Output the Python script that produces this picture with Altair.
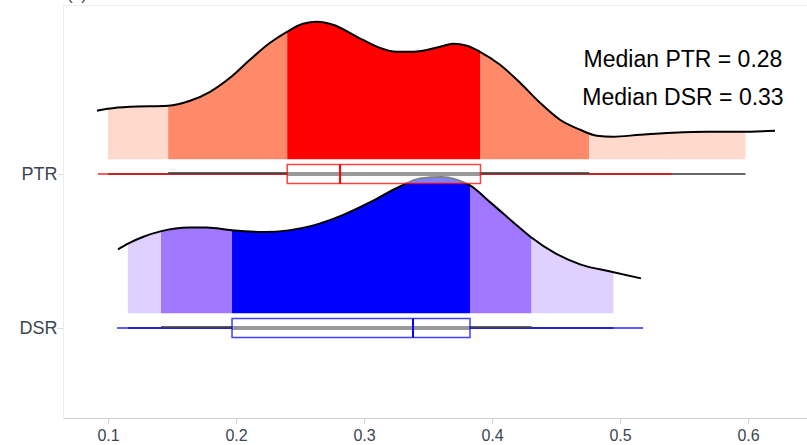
import altair as alt
import numpy as np
import pandas as pd

# ---------------- data ----------------
categories = ["PTR", "DSR"]
cat_pos = {"PTR": 2, "DSR": 1}

ptr_x = [0.0914, 0.1000, 0.1172, 0.1469, 0.1641, 0.1797, 0.1953, 0.2109, 0.2266, 0.2398,
         0.2523, 0.2633, 0.2758, 0.2945, 0.3102, 0.3258, 0.3383, 0.3594, 0.3695, 0.3805,
         0.3906, 0.4063, 0.4219, 0.4375, 0.4531, 0.4688, 0.4820, 0.4945, 0.5156, 0.5414,
         0.5680, 0.5938, 0.6211]
ptr_density = [2.43, 2.53, 2.63, 2.68, 2.93, 3.38, 4.08, 4.98, 5.83, 6.38,
               6.78, 6.88, 6.73, 6.13, 5.63, 5.38, 5.38, 5.63, 5.78, 5.68,
               5.38, 4.73, 3.83, 2.83, 1.98, 1.48, 1.18, 1.13, 1.23, 1.33,
               1.38, 1.38, 1.43]

dsr_x = [0.1078, 0.1160, 0.1271, 0.1410, 0.1633, 0.1772, 0.1966, 0.2216, 0.2411, 0.2605,
         0.2828, 0.3051, 0.3273, 0.3438, 0.3606, 0.3718, 0.3828, 0.3996, 0.4163, 0.4302,
         0.4496, 0.4688, 0.4941, 0.5164]
dsr_density = [3.20, 3.50, 3.82, 4.10, 4.29, 4.29, 4.15, 4.07, 4.15, 4.40,
               4.90, 5.57, 6.32, 6.75, 6.82, 6.70, 6.40, 5.50, 4.57, 3.82,
               3.00, 2.45, 2.07, 1.75]

# quantile band edges: outer lo, mid lo, Q1, Q3, mid hi, outer hi
ptr_bands = [0.100, 0.147, 0.240, 0.391, 0.476, 0.598]
dsr_bands = [0.1155, 0.1414, 0.1969, 0.3828, 0.4309, 0.4948]

ptr_whisker = [0.0922, 0.5406]
dsr_whisker = [0.1070, 0.5180]
ptr_median = 0.2813
dsr_median = 0.3383

median_labels = ["Median PTR = 0.28", "Median DSR = 0.33"]
x_ticks = [0.1, 0.2, 0.3, 0.4, 0.5, 0.6]

band_levels = ["outer", "mid", "inner", "mid", "outer"]
colors = {
    "PTR": {"outer": "#ffd9cc", "mid": "#ff8a6a", "inner": "#ff0000", "line": "#ff0000"},
    "DSR": {"outer": "#e0d0ff", "mid": "#a078ff", "inner": "#0000ff", "line": "#0000ff"},
}

# ---------------- layout helpers ----------------
BASE_OFF = 0.095      # ridge baseline above its category line
DENS_K = 20 / 154.0   # density -> y units
BOX_H = 0.062

curves = {"PTR": (ptr_x, ptr_density), "DSR": (dsr_x, dsr_density)}
bands = {"PTR": ptr_bands, "DSR": dsr_bands}
whisk = {"PTR": ptr_whisker, "DSR": dsr_whisker}
meds = {"PTR": ptr_median, "DSR": dsr_median}

area_rows, line_rows, box_rows = [], [], []
for cat in categories:
    cx, cd = curves[cat]
    base = cat_pos[cat] + BASE_OFF
    b = bands[cat]
    for i in range(5):
        lo, hi = b[i], b[i + 1]
        xs_ = [lo] + [v for v in cx if lo < v < hi] + [hi]
        ds = np.interp(xs_, cx, cd)
        for xv, dv in zip(xs_, ds):
            area_rows.append({"x": float(xv), "y": float(base + dv * DENS_K), "y2": float(base),
                              "seg": f"{cat}{i}", "col": colors[cat][band_levels[i]]})
    for xv, dv in zip(cx, cd):
        line_rows.append({"x": xv, "y": base + dv * DENS_K, "cat": cat})
    box_rows.append({
        "cat": cat, "col": colors[cat]["line"],
        "y": cat_pos[cat], "ylo": cat_pos[cat] - BOX_H, "yhi": cat_pos[cat] + BOX_H,
        "o_lo": b[0], "o_hi": b[5], "m_lo": b[1], "m_hi": b[4], "q1": b[2], "q3": b[3],
        "w_lo": whisk[cat][0], "w_hi": whisk[cat][1], "med": meds[cat],
    })

area_df = pd.DataFrame(area_rows)
line_df = pd.DataFrame(line_rows)
box_df = pd.DataFrame(box_rows)
text_df = pd.DataFrame({"x": [0.5492, 0.5492], "y": [2.697, 2.448], "t": median_labels})

X_DOMAIN = [0.06484, 0.64609]
Y_DOMAIN = [0.4156, 3.0974]
FONT = "Liberation Sans"
LABEL_COLOR = "#3a4552"

xs = alt.Scale(domain=X_DOMAIN, nice=False, zero=False)
ys = alt.Scale(domain=Y_DOMAIN, nice=False, zero=False)

x_axis = alt.Axis(values=x_ticks, format=".1f", grid=False, domainColor="#d0d0d0",
                  tickColor="#d0d0d0", tickSize=5, labelFont=FONT, labelFontSize=16,
                  labelColor=LABEL_COLOR, labelPadding=4, title=None)
y_axis = alt.Axis(values=[1, 2], labelExpr="datum.value == 2 ? 'PTR' : 'DSR'", grid=False,
                  domainColor="#ececec", tickColor="#dddddd", tickSize=6, labelPadding=0,
                  labelFont=FONT, labelFontSize=18, labelColor=LABEL_COLOR, title=None)

areas = alt.Chart(area_df).mark_area(interpolate="monotone", opacity=1).encode(
    x=alt.X("x:Q", scale=xs, axis=x_axis),
    y=alt.Y("y:Q", scale=ys, axis=y_axis, stack=None),
    y2=alt.Y2("y2:Q"),
    fill=alt.Fill("col:N", scale=None),
    detail="seg:N",
)

outline = alt.Chart(line_df).mark_line(interpolate="monotone", color="black", strokeWidth=2).encode(
    x=alt.X("x:Q", scale=xs), y=alt.Y("y:Q", scale=ys), detail="cat:N", order=alt.Order("x:Q"))

cat_color = alt.Color("col:N", scale=None)

base_box = alt.Chart(box_df)
thin_black = base_box.mark_rule(color="#333333", strokeWidth=1.5).encode(
    x=alt.X("o_lo:Q", scale=xs), x2="o_hi:Q", y=alt.Y("y:Q", scale=ys))
whisker = base_box.mark_rule(strokeWidth=1.5, opacity=0.85).encode(
    x=alt.X("w_lo:Q", scale=xs), x2="w_hi:Q", y=alt.Y("y:Q", scale=ys), color=cat_color)
thick = base_box.mark_rule(color="#444444", strokeWidth=2, yOffset=-1, opacity=0.85).encode(
    x=alt.X("m_lo:Q", scale=xs), x2="m_hi:Q", y=alt.Y("y:Q", scale=ys))
box_fill = base_box.mark_rect(fill="white", opacity=0.5).encode(
    x=alt.X("q1:Q", scale=xs), x2="q3:Q", y=alt.Y("ylo:Q", scale=ys), y2="yhi:Q")
gray = base_box.mark_rule(color="#999999", strokeWidth=4).encode(
    x=alt.X("q1:Q", scale=xs), x2="q3:Q", y=alt.Y("y:Q", scale=ys))
box_stroke = base_box.mark_rect(fillOpacity=0, strokeWidth=1.5, strokeOpacity=0.75).encode(
    x=alt.X("q1:Q", scale=xs), x2="q3:Q", y=alt.Y("ylo:Q", scale=ys), y2="yhi:Q",
    stroke=alt.Stroke("col:N", scale=None))
median = base_box.mark_rule(strokeWidth=2).encode(
    x=alt.X("med:Q", scale=xs), y=alt.Y("ylo:Q", scale=ys), y2="yhi:Q", color=cat_color)

texts = alt.Chart(text_df).mark_text(font=FONT, fontSize=23, color="black", align="center",
                                     baseline="alphabetic").encode(
    x=alt.X("x:Q", scale=xs), y=alt.Y("y:Q", scale=ys), text="t:N")

panel = alt.Chart(pd.DataFrame({"t": ["(c)"]})).mark_text(
    font=FONT, fontSize=17, color=LABEL_COLOR, align="left", baseline="alphabetic").encode(
    x=alt.value(4), y=alt.value(-5), text="t:N")

chart = alt.layer(areas, outline, thin_black, whisker, thick, box_fill, gray, box_stroke,
                  median, texts, panel).properties(
    width=744, height=413,
    autosize=alt.AutoSizeParams(type="none"),
    padding={"left": 63, "top": 5, "right": 0, "bottom": 27},
    background="white",
).configure_view(stroke="#ececec", strokeWidth=1)

chart.save("out.html", embed_options={"renderer": "svg", "actions": False})
